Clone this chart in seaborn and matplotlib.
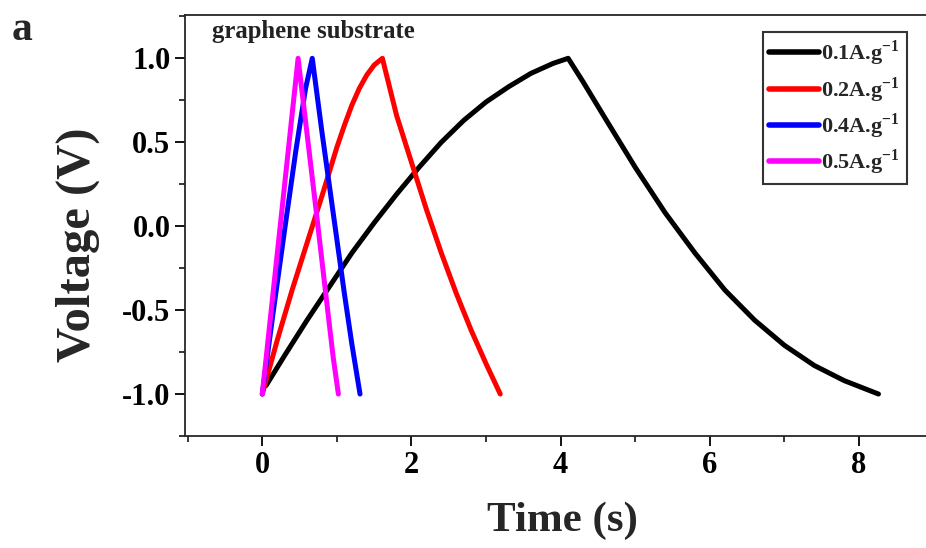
import matplotlib
matplotlib.use("Agg")
import matplotlib.pyplot as plt
import matplotlib.ticker as mticker
import seaborn as sns
import pandas as pd

# ---------------- data ----------------
labels = ["0.1A.g$^{\\mathbf{-1}}$", "0.2A.g$^{\\mathbf{-1}}$",
          "0.4A.g$^{\\mathbf{-1}}$", "0.5A.g$^{\\mathbf{-1}}$"]
colors = ["#000000", "#ff0000", "#0000ff", "#ff00ff"]

t_01 = [0.05, 0.3, 0.6, 0.9, 1.2, 1.5, 1.8, 2.1, 2.4, 2.7, 3.0, 3.3, 3.6, 3.9, 4.1,
        4.3, 4.6, 5.0, 5.4, 5.8, 6.2, 6.6, 7.0, 7.4, 7.8, 8.26]
v_01 = [-0.95, -0.77, -0.56, -0.36, -0.16, 0.02, 0.19, 0.35, 0.5, 0.63, 0.74, 0.83, 0.91, 0.97, 1.0,
        0.86, 0.64, 0.35, 0.08, -0.16, -0.38, -0.56, -0.71, -0.83, -0.92, -1.0]

t_02 = [0.0, 0.2, 0.4, 0.6, 0.8, 1.0, 1.1, 1.2, 1.3, 1.4, 1.5, 1.61,
        1.8, 2.0, 2.2, 2.4, 2.6, 2.8, 3.0, 3.19]
v_02 = [-1.0, -0.68, -0.38, -0.1, 0.18, 0.47, 0.6, 0.72, 0.82, 0.9, 0.96, 1.0,
        0.66, 0.38, 0.1, -0.16, -0.4, -0.62, -0.82, -1.0]

t_04 = [0.0, 0.15, 0.3, 0.45, 0.58, 0.67, 0.8, 0.95, 1.1, 1.2, 1.31]
v_04 = [-1.0, -0.5, -0.02, 0.45, 0.82, 1.0, 0.56, 0.08, -0.4, -0.7, -1.0]

t_05 = [0.0, 0.12, 0.24, 0.36, 0.48, 0.6, 0.72, 0.85, 0.95, 1.02]
v_05 = [-1.0, -0.5, 0.0, 0.5, 1.0, 0.55, 0.1, -0.4, -0.78, -1.0]

series_t = [t_01, t_02, t_04, t_05]
series_v = [v_01, v_02, v_04, v_05]

frames = []
for lab, tt, vv in zip(labels, series_t, series_v):
    frames.append(pd.DataFrame({"Time (s)": tt, "Voltage (V)": vv, "rate": lab}))
df = pd.concat(frames, ignore_index=True)

# ---------------- style ----------------
sns.set_style("ticks")
plt.rcParams["font.family"] = ["Liberation Serif", "DejaVu Serif"]
plt.rcParams["font.weight"] = "bold"
plt.rcParams["mathtext.fontset"] = "custom"
plt.rcParams["mathtext.rm"] = "Liberation Serif"
plt.rcParams["mathtext.bf"] = "Liberation Serif:bold"
plt.rcParams["axes.linewidth"] = 1.3

fig = plt.figure(figsize=(9.26, 5.48), dpi=100)
ax = fig.add_axes([185 / 926, 1 - 436 / 548, 1 - 185 / 926, (436 - 15) / 548])

sns.lineplot(data=df, x="Time (s)", y="Voltage (V)", hue="rate",
             palette=dict(zip(labels, colors)), sort=False, estimator=None,
             linewidth=3.6, ax=ax)

ax.set_xlim(-1.036, 8.897)
ax.set_ylim(-1.25, 1.258)
ax.xaxis.set_major_locator(mticker.MultipleLocator(2))
ax.xaxis.set_minor_locator(mticker.MultipleLocator(1))
ax.yaxis.set_major_locator(mticker.FixedLocator([-1.0, -0.5, 0.0, 0.5, 1.0]))
ax.yaxis.set_minor_locator(mticker.MultipleLocator(0.25))
ax.yaxis.set_major_formatter(mticker.FormatStrFormatter("%.1f"))
ax.tick_params(which="major", direction="out", length=7, width=1.3,
               labelsize=22, colors="black")
ax.tick_params(which="minor", direction="out", length=4, width=1.3)
for lab in ax.get_xticklabels() + ax.get_yticklabels():
    lab.set_fontweight("bold")

ax.spines["right"].set_visible(False)
ax.spines["top"].set_visible(True)

ax.set_xlabel("Time (s)", fontsize=31, fontweight="bold")
ax.xaxis.set_label_coords((562 - 185) / 741, -(502 - 436) / 421)
ax.set_ylabel("Voltage (V)", fontsize=35, fontweight="bold")
ax.yaxis.set_label_coords((100 - 185) / 741, (436 - 245) / 421)

ax.text(-0.674, 1.12, "graphene substrate", fontsize=17.8, fontweight="bold",
        va="baseline", ha="left", color="#222222")
fig.text(12 / 926, 1 - 40 / 548, "a", fontsize=30, fontweight="bold",
         va="baseline", ha="left")

leg = ax.legend(loc="upper right", bbox_to_anchor=(0.974, (436 - 32) / 421),
                prop={"family": "Liberation Serif", "weight": "bold", "size": 16},
                frameon=True, fancybox=False, edgecolor="black",
                handlelength=2.25, handletextpad=0.1, labelspacing=0.30,
                borderpad=0.3, borderaxespad=0.0, title=None)
leg.get_frame().set_linewidth(1.5)
for h in leg.get_lines():
    h.set_linewidth(4)

fig.savefig("out.png", dpi=100)
